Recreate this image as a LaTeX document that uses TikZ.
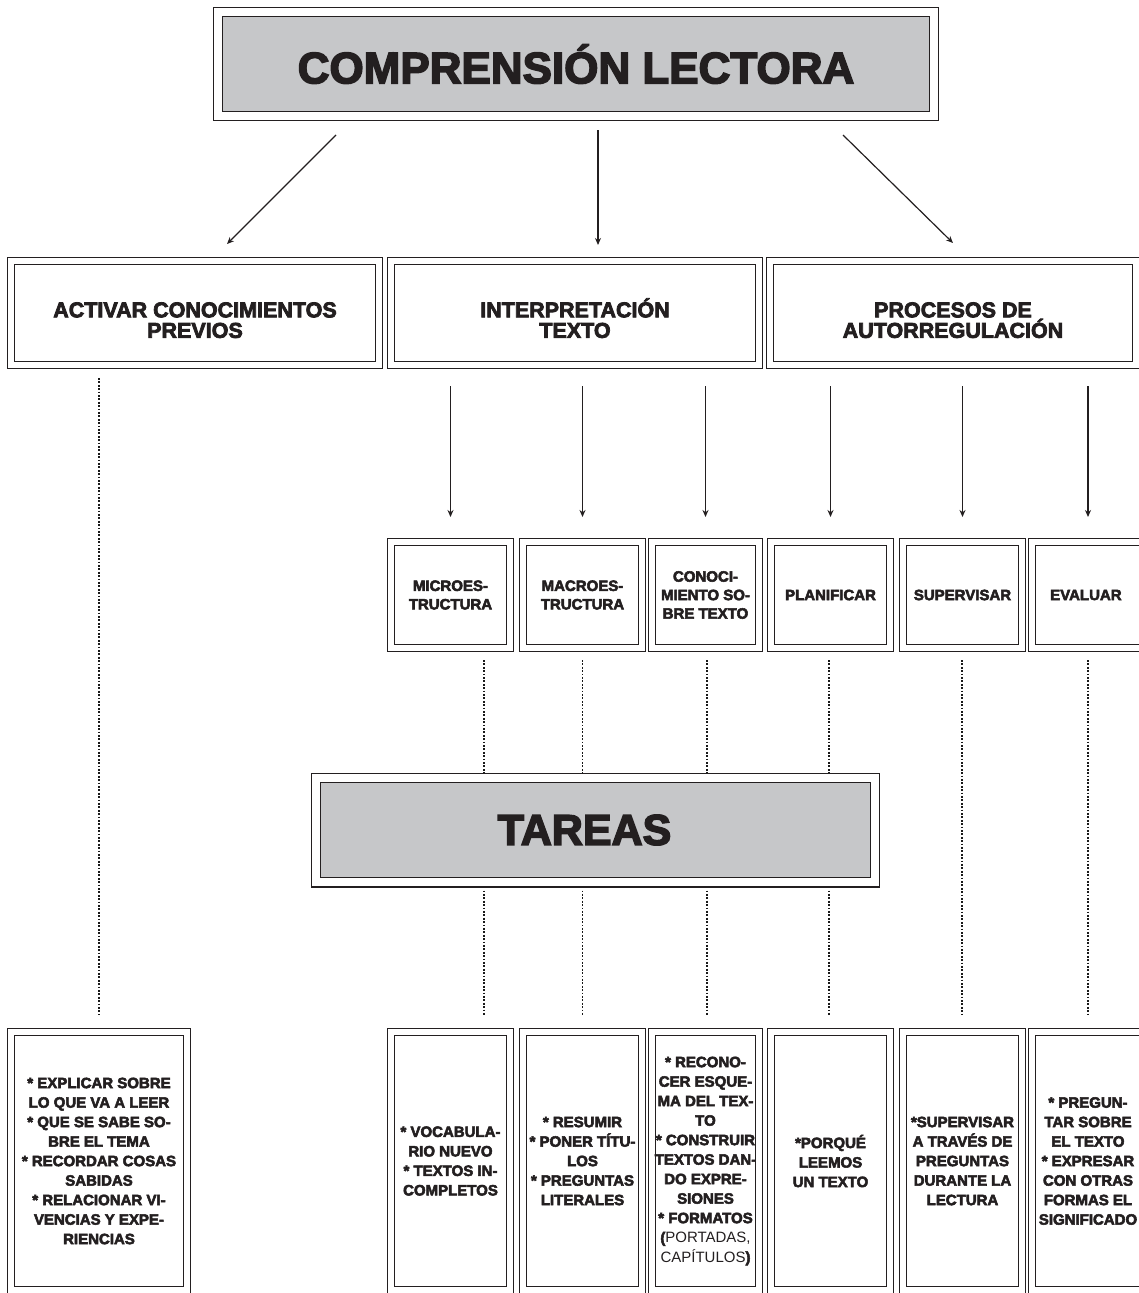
\documentclass[tikz,border=0pt]{standalone}
\usepackage{fontspec}
\setmainfont{Liberation Sans}[BoldFeatures={FakeBold=3.5}]
\usepackage{tikz}
\usetikzlibrary{arrows.meta, calc}
\definecolor{grisCaja}{HTML}{C6C7C9}
\definecolor{tinta}{HTML}{231F20}
\newcommand{\letraTitulo}{\fontsize{44}{48}\selectfont\bfseries}
\newcommand{\letraTareas}{\fontsize{43}{48}\selectfont\bfseries}
\newcommand{\letraRama}{\fontsize{21.5}{20.5}\selectfont\bfseries}
\newcommand{\letraCaja}{\fontsize{15}{18.5}\selectfont\bfseries}
\newcommand{\letraTarea}{\fontsize{15}{19.5}\selectfont\bfseries}
\newcommand{\bajar}{\rule{0pt}{29.4pt}}
\tikzset{
  caja/.style={draw=tinta, line width=1.1pt, double=white, double distance=6pt, outer sep=4.1pt, inner sep=0pt, align=center, text=tinta},
  titulo/.style={caja, double distance=8pt, outer sep=5.1pt, fill=grisCaja, font=\letraTitulo},
  rama/.style={caja, minimum width=367.8pt, minimum height=103.8pt, font=\letraRama},
  tarea/.style={caja, minimum height=257.8pt, font=\letraTarea},
  flecha/.style={draw=tinta, line width=1.2pt, -{Stealth[length=7pt,width=6pt]}},
  punteado/.style={draw=black!90, line width=1.3pt, dash pattern=on 1.8pt off 1.6pt}
}

\begin{document}
\begin{tikzpicture}[x=1pt, y=-1pt]
    \useasboundingbox (0,0) rectangle (1139,1293);
    \clip (0,0) rectangle (1139,1293);

    % 1. Titulo principal
    \node[titulo, minimum width=715.8pt, minimum height=103.8pt] (comp) at (576, 64) {COMPRENSIÓN LECTORA};

    % 2. Tres ramas
    \node[rama] (activar) at (195, 313) {\bajar ACTIVAR CONOCIMIENTOS\\PREVIOS};
    \node[rama] (interp) at (575, 313) {\bajar INTERPRETACIÓN\\TEXTO};
    \node[rama, minimum width=365.8pt] (procesos) at (953, 313) {\bajar PROCESOS DE\\AUTORREGULACIÓN};

    \draw[flecha] ([xshift=-240pt, yshift=-14pt]comp.south) -- ([xshift=32pt, yshift=13pt]activar.north);
    \draw[flecha] ([xshift=22pt, yshift=-9pt]comp.south) -- ([xshift=22pt, yshift=12pt]comp.south |- interp.north);
    \draw[flecha] ([xshift=267pt, yshift=-14pt]comp.south) -- ([yshift=14pt]procesos.north);

    % 3. Subprocesos
    \foreach \nombre/\cx/\ancho/\texto in {
        micro/450.5/118.8/{MICROES-\\TRUCTURA},
        macro/582.5/118.8/{MACROES-\\TRUCTURA},
        conoc/705.5/106.8/{CONOCI-\\MIENTO SO-\\BRE TEXTO},
        planif/830.5/118.8/{PLANIFICAR},
        superv/962.5/118.8/{SUPERVISAR},
        evaluar/1088/111.8/{EVALUAR}
    } {
        \node[caja, minimum width=\ancho pt, minimum height=105.8pt, font=\letraCaja] (\nombre) at (\cx, 595) {\texto};
    }

    \foreach \origen/\destino in {interp/micro, interp/macro, interp/conoc, procesos/planif, procesos/superv, procesos/evaluar} {
        \draw[flecha, shorten <=17pt, shorten >=21pt] (\destino.north |- \origen.south) -- (\destino.north);
    }

    % 4. Tareas
    \node[titulo, minimum width=558.8pt, minimum height=104.8pt, font=\letraTareas] (tareas) at (595.5, 830) {\hspace*{-22pt}TAREAS};

    \node[tarea, minimum width=175.8pt] (tActivar) at (99, 1161) {* EXPLICAR SOBRE\\LO QUE VA A LEER\\* QUE SE SABE SO-\\BRE EL TEMA\\* RECORDAR COSAS\\SABIDAS\\* RELACIONAR VI-\\VENCIAS Y EXPE-\\RIENCIAS};
    \node[tarea, minimum width=118.8pt] (tMicro) at (450.5, 1161) {* VOCABULA-\\RIO NUEVO\\* TEXTOS IN-\\COMPLETOS};
    \node[tarea, minimum width=118.8pt] (tMacro) at (582.5, 1161) {* RESUMIR\\* PONER TÍTU-\\LOS\\* PREGUNTAS\\LITERALES};
    \node[tarea, minimum width=106.8pt] (tConoc) at (705.5, 1161) {* RECONO-\\CER ESQUE-\\MA DEL TEX-\\TO\\* CONSTRUIR\\TEXTOS DAN-\\DO EXPRE-\\SIONES\\* FORMATOS\\(\mdseries PORTADAS,\\\mdseries CAPÍTULOS\bfseries)};
    \node[tarea, minimum width=118.8pt] (tPlanif) at (830.5, 1161) {*PORQUÉ\\LEEMOS\\UN TEXTO};
    \node[tarea, minimum width=118.8pt] (tSuperv) at (962.5, 1161) {*SUPERVISAR\\A TRAVÉS DE\\PREGUNTAS\\DURANTE LA\\LECTURA};
    \node[tarea, minimum width=111.8pt] (tEvaluar) at (1088, 1161) {* PREGUN-\\TAR SOBRE\\EL TEXTO\\* EXPRESAR\\CON OTRAS\\FORMAS EL\\SIGNIFICADO};

    % 5. Lineas punteadas
    \draw[punteado, shorten <=9pt, shorten >=13pt] (tActivar.north |- activar.south) -- (tActivar.north);
    \foreach \origen/\destino/\dx in {micro/tMicro/33.5, macro/tMacro/0, conoc/tConoc/1.5, planif/tPlanif/-1.5} {
        \coordinate (linea) at ([xshift=\dx pt]\origen.south);
        \draw[punteado, shorten <=8pt] (linea) -- (linea |- tareas.north);
        \draw[punteado, shorten <=3pt, shorten >=13pt] (linea |- tareas.south) -- (linea |- \destino.north);
    }
    \foreach \origen/\destino/\dx in {superv/tSuperv/-0.5, evaluar/tEvaluar/0} {
        \coordinate (linea) at ([xshift=\dx pt]\origen.south);
        \draw[punteado, shorten <=8pt, shorten >=13pt] (linea) -- (linea |- \destino.north);
    }

\end{tikzpicture}
\end{document}
